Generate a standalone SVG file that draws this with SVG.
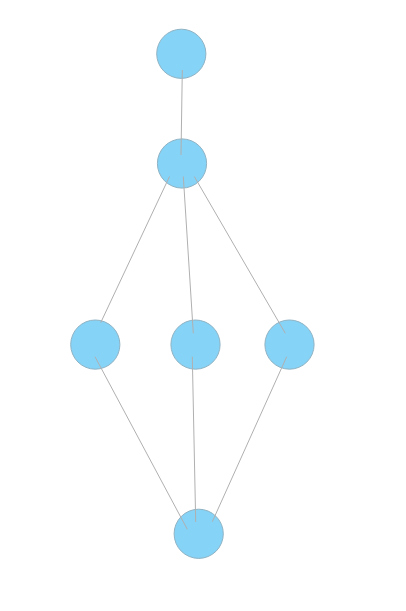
<svg xmlns="http://www.w3.org/2000/svg" width="406" height="611" viewBox="0 0 406 611">
<style>
.n{fill:#85d3f7;stroke:#8fb3c4;stroke-width:1}
.e{stroke:#b0b0b0;stroke-width:1;fill:none}
</style>
<rect width="406" height="611" fill="#fff"/>
<g id="n1"><circle class="n" cx="181.3" cy="53.8" r="24.6"/></g>
<g id="n2"><circle class="n" cx="182" cy="163.5" r="24.6"/></g>
<g id="n3"><circle class="n" cx="95.3" cy="344.6" r="24.6"/></g>
<g id="n4"><circle class="n" cx="195.5" cy="344.6" r="24.6"/></g>
<g id="n5"><circle class="n" cx="289.5" cy="344.6" r="24.6"/></g>
<g id="n6"><circle class="n" cx="198.7" cy="533.8" r="24.6"/></g>
<g id="edges">
<line class="e" x1="182.3" y1="70" x2="181" y2="155"/>
<line class="e" x1="169.5" y1="176.5" x2="100.7" y2="322.7"/>
<line class="e" x1="183.3" y1="176.5" x2="193.3" y2="333.3"/>
<line class="e" x1="194.3" y1="176.5" x2="285.3" y2="333.3"/>
<line class="e" x1="95" y1="356.7" x2="187.3" y2="529.3"/>
<line class="e" x1="192.3" y1="356.7" x2="195.7" y2="522"/>
<line class="e" x1="286.7" y1="356.7" x2="212.3" y2="521.7"/>
</g>
</svg>
